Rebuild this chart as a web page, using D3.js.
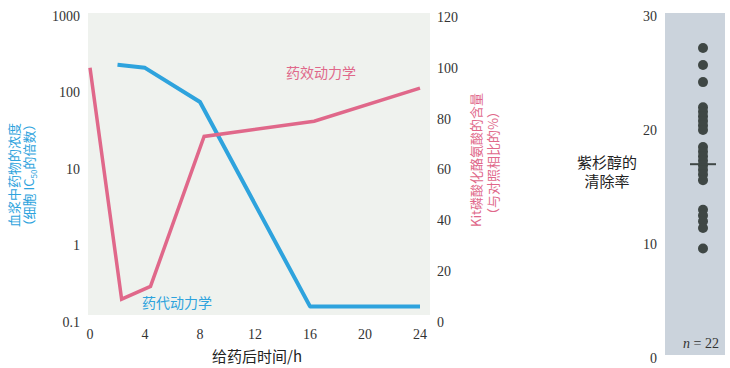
<!DOCTYPE html>
<html>
<head>
<meta charset="utf-8">
<script src="https://cdn.jsdelivr.net/npm/d3@7"></script>
<style>
  body { margin: 0; background: #fff; }
  svg { display: block; }
  .num { font-family: "Liberation Serif", "DejaVu Serif", serif; font-size: 14px; fill: #333; }
  .cjk { font-family: "Noto Sans CJK SC", sans-serif; }
</style>
</head>
<body>
<svg width="730" height="368"></svg>
<script>
// pharmacokinetics: plasma drug level (multiples of cell IC50), log scale
const pkHours = [2, 4, 8, 16, 24];
const pkLevel = [230, 210, 75, 0.16, 0.16];
// pharmacodynamics: Kit phospho-tyrosine (% of control)
const pdHours = [0, 2.3, 4.4, 8.3, 16.3, 24];
const pdLevel = [100, 9, 14, 73, 79, 92];
const hourTicks = [0, 4, 8, 12, 16, 20, 24];
const logTicks = [0.1, 1, 10, 100, 1000];
const pctTicks = [0, 20, 40, 60, 80, 100, 120];
// paclitaxel clearance, n = 22
const clearance = [27.2, 25.7, 24.2, 22.0, 21.6, 21.2, 20.8, 20.4, 20.0,
  18.5, 18.1, 17.7, 17.3, 16.9, 16.5, 16.1, 15.6, 13.0, 12.5, 12.0, 11.4, 9.6];
const clearanceMean = 17.0;
const clearanceTicks = [0, 10, 20, 30];

const blue = "#2ea3dd";
const pink = "#e0688a";

const svg = d3.select("svg");

// ---- left chart ----
const x = d3.scaleLinear().domain([0, 24]).range([90, 420]);
const yLog = d3.scaleLog().domain([0.1, 1000]).range([322, 16]);
const yPct = d3.scaleLinear().domain([0, 120]).range([322, 17]);

svg.append("rect")
  .attr("x", 88).attr("y", 13).attr("width", 342).attr("height", 302)
  .attr("fill", "#eff2ee");

svg.selectAll(".ylab").data(logTicks).join("text")
  .attr("class", "num")
  .attr("x", 80).attr("y", (d) => yLog(d)).attr("dy", "0.35em")
  .attr("text-anchor", "end")
  .text((d) => d);

svg.selectAll(".rlab").data(pctTicks).join("text")
  .attr("class", "num")
  .attr("x", 437).attr("y", (d) => yPct(d)).attr("dy", "0.35em")
  .text((d) => d);

svg.selectAll(".xlab").data(hourTicks).join("text")
  .attr("class", "num")
  .attr("x", (d) => x(d)).attr("y", 334).attr("dy", "0.35em")
  .attr("text-anchor", "middle")
  .text((d) => d);

svg.append("text").attr("class", "cjk")
  .attr("x", 257).attr("y", 357).attr("dy", "0.35em")
  .attr("text-anchor", "middle").attr("font-size", 15).attr("fill", "#222")
  .text("给药后时间/h");

const leftTitle = svg.append("text").attr("class", "cjk")
  .attr("transform", "translate(14,175) rotate(-90)")
  .attr("text-anchor", "middle").attr("font-size", 13).attr("fill", blue);
leftTitle.append("tspan").attr("x", 0).attr("dy", "0.35em").text("血浆中药物的浓度");
const l2 = leftTitle.append("tspan").attr("x", 0).attr("dy", 15);
l2.append("tspan").text("（细胞 IC");
l2.append("tspan").attr("font-size", 8).attr("dy", 3).text("50");
l2.append("tspan").attr("dy", -3).text("的倍数）");

const rightTitle = svg.append("text").attr("class", "cjk")
  .attr("transform", "translate(476,160) rotate(-90)")
  .attr("text-anchor", "middle").attr("font-size", 13).attr("fill", pink);
rightTitle.append("tspan").attr("x", 0).attr("dy", "0.35em").text("Kit磷酸化酪氨酸的含量");
rightTitle.append("tspan").attr("x", -3).attr("dy", 17).text("（与对照相比的%）");

const pkLine = d3.line().x((d, i) => x(pkHours[i])).y((d) => yLog(d));
svg.append("path").datum(pkLevel)
  .attr("d", pkLine).attr("fill", "none")
  .attr("stroke", blue).attr("stroke-width", 4).attr("stroke-linejoin", "round");

const pdLine = d3.line().x((d, i) => x(pdHours[i])).y((d) => yPct(d));
svg.append("path").datum(pdLevel)
  .attr("d", pdLine).attr("fill", "none")
  .attr("stroke", pink).attr("stroke-width", 3.5).attr("stroke-linejoin", "miter");

svg.append("text").attr("class", "cjk")
  .attr("x", 321).attr("y", 73).attr("dy", "0.35em")
  .attr("text-anchor", "middle").attr("font-size", 14).attr("fill", pink)
  .text("药效动力学");

svg.append("text").attr("class", "cjk")
  .attr("x", 177).attr("y", 303).attr("dy", "0.35em")
  .attr("text-anchor", "middle").attr("font-size", 14).attr("fill", blue)
  .text("药代动力学");

// ---- right panel ----
const yc = d3.scaleLinear().domain([0, 30]).range([358, 16]);

svg.append("rect")
  .attr("x", 665).attr("y", 13).attr("width", 60).attr("height", 342)
  .attr("fill", "#cbd3dc");

svg.selectAll(".clab").data(clearanceTicks).join("text")
  .attr("class", "num")
  .attr("x", 657).attr("y", (d) => yc(d)).attr("dy", "0.35em")
  .attr("text-anchor", "end").attr("fill", "#444")
  .text((d) => d);

svg.selectAll(".dot").data(clearance).join("circle")
  .attr("cx", 703).attr("cy", (d) => yc(d)).attr("r", 5)
  .attr("fill", "#3f4745");

svg.append("line")
  .attr("x1", 690).attr("x2", 716)
  .attr("y1", yc(clearanceMean)).attr("y2", yc(clearanceMean))
  .attr("stroke", "#3f4745").attr("stroke-width", 2);

const cTitle = svg.append("text").attr("class", "cjk")
  .attr("text-anchor", "middle").attr("font-size", 15).attr("fill", "#222");
cTitle.append("tspan").attr("x", 607).attr("y", 163).attr("dy", "0.35em").text("紫杉醇的");
cTitle.append("tspan").attr("x", 607).attr("y", 182).attr("dy", "0.35em").text("清除率");

const nLab = svg.append("text").attr("class", "num")
  .attr("x", 719).attr("y", 343).attr("dy", "0.35em").attr("text-anchor", "end")
  .attr("font-size", 13).attr("fill", "#222");
nLab.append("tspan").attr("font-style", "italic").text("n");
nLab.append("tspan").text(" = 22");
</script>
</body>
</html>
